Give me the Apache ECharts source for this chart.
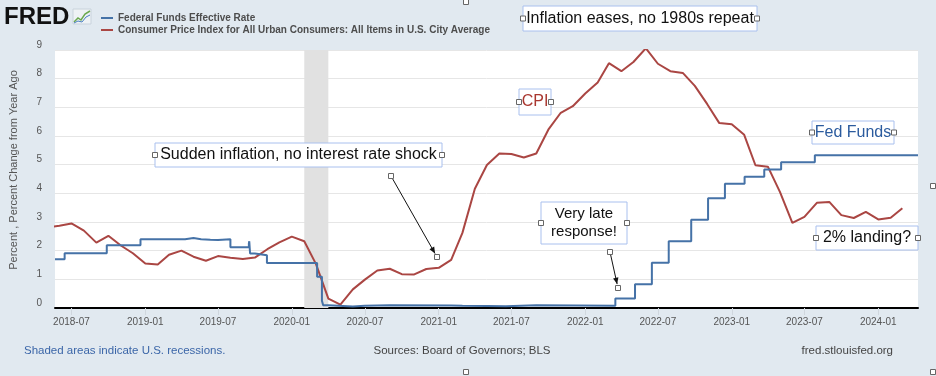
<!DOCTYPE html>
<html>
<head>
<meta charset="utf-8">
<script src="https://cdn.jsdelivr.net/npm/echarts@6/dist/echarts.min.js"></script>
<style>
  html, body { margin: 0; padding: 0; background: #ffffff; }
  #Chart1 { width: 936px; height: 376px; }
</style>
</head>
<body>
<div id="Chart1"></div>
<script>
// FRED: fed funds vs CPI inflation

// CPI, percent change from year ago (monthly, first of month)
var cpiMonths = [
  "2018-05", "2018-06", "2018-07", "2018-08", "2018-09", "2018-10", "2018-11", "2018-12",
  "2019-01", "2019-02", "2019-03", "2019-04", "2019-05", "2019-06", "2019-07", "2019-08", "2019-09", "2019-10", "2019-11", "2019-12",
  "2020-01", "2020-02", "2020-03", "2020-04", "2020-05", "2020-06", "2020-07", "2020-08", "2020-09", "2020-10", "2020-11", "2020-12",
  "2021-01", "2021-02", "2021-03", "2021-04", "2021-05", "2021-06", "2021-07", "2021-08", "2021-09", "2021-10", "2021-11", "2021-12",
  "2022-01", "2022-02", "2022-03", "2022-04", "2022-05", "2022-06", "2022-07", "2022-08", "2022-09", "2022-10", "2022-11", "2022-12",
  "2023-01", "2023-02", "2023-03", "2023-04", "2023-05", "2023-06", "2023-07", "2023-08", "2023-09", "2023-10", "2023-11", "2023-12",
  "2024-01", "2024-02", "2024-03"
];
var cpiValues = [
  2.80, 2.87, 2.95, 2.70, 2.28, 2.52, 2.18, 1.91,
  1.55, 1.52, 1.86, 2.00, 1.79, 1.65, 1.81, 1.75, 1.71, 1.76, 2.05, 2.29,
  2.49, 2.33, 1.54, 0.33, 0.12, 0.65, 0.99, 1.31, 1.37, 1.18, 1.17, 1.36,
  1.40, 1.68, 2.62, 4.16, 4.99, 5.39, 5.37, 5.25, 5.39, 6.22, 6.81, 7.04,
  7.48, 7.87, 8.54, 8.26, 8.58, 9.06, 8.52, 8.26, 8.20, 7.75, 7.11, 6.45,
  6.41, 6.04, 4.98, 4.93, 4.05, 2.97, 3.18, 3.67, 3.70, 3.24, 3.14, 3.35,
  3.09, 3.15, 3.48
];

// Federal funds effective rate, dates where the level changes
var ffDates = [
  "2018-05-21", "2018-06-14", "2018-09-27", "2018-12-20", "2019-04-10", "2019-05-01", "2019-05-20",
  "2019-06-12", "2019-07-01", "2019-08-01", "2019-09-16", "2019-09-17", "2019-09-19", "2019-10-01",
  "2019-10-31", "2020-03-04", "2020-03-16", "2020-03-19", "2020-04-01", "2020-06-01", "2020-07-01",
  "2020-09-01", "2021-02-01", "2021-03-01", "2021-05-01", "2021-06-17", "2021-09-01", "2022-03-17",
  "2022-05-05", "2022-06-16", "2022-07-28", "2022-09-22", "2022-11-03", "2022-12-15", "2023-02-02",
  "2023-03-23", "2023-05-04", "2023-07-27", "2024-04-09"
];
var ffValues = [
  1.70, 1.91, 2.19, 2.40, 2.44, 2.40, 2.38,
  2.37, 2.40, 2.12, 2.25, 2.33, 1.90, 1.84,
  1.57, 1.09, 0.25, 0.10, 0.05, 0.08, 0.10,
  0.09, 0.08, 0.07, 0.06, 0.10, 0.08, 0.33,
  0.83, 1.58, 2.33, 3.08, 3.83, 4.33, 4.58,
  4.83, 5.08, 5.33, 5.33
];

var recessions = [["2020-02-01", "2020-04-01"]];
var xTicks = ["2018-07-01", "2019-01-01", "2019-07-01", "2020-01-01", "2020-07-01", "2021-01-01",
  "2021-07-01", "2022-01-01", "2022-07-01", "2023-01-01", "2023-07-01", "2024-01-01"];
var xMin = "2018-05-21";
var xMax = "2024-04-09";

var seriesNames = [
  "Federal Funds Effective Rate",
  "Consumer Price Index for All Urban Consumers: All Items in U.S. City Average"
];

// x is counted in days since 1970 (UTC) on a plain value axis
var DAY = 86400000;
function toDay(s) {
  var p = s.split("-");
  return Date.UTC(+p[0], +p[1] - 1, p[2] ? +p[2] : 1) / DAY;
}
function pad(n) {
  return n < 10 ? "0" + n : "" + n;
}

var cpiData = cpiMonths.map(function (m, i) {
  return [toDay(m), cpiValues[i]];
});
var ffData = ffDates.map(function (d, i) {
  return [toDay(d), ffValues[i]];
});

var font = "Liberation Sans, Arial, sans-serif";
var boxBorder = "#a9c0ee";

// little square selection handles
function handle(x, y) {
  return {
    type: "rect",
    shape: { x: x - 2.5, y: y - 2.5, width: 5, height: 5 },
    style: { fill: "#ffffff", stroke: "#666666", lineWidth: 1 },
    z: 120
  };
}
// annotation text box
function noteBox(x, y, w, h, text, color, size) {
  return [
    {
      type: "rect",
      shape: { x: x, y: y, width: w, height: h },
      style: { fill: "#ffffff", stroke: boxBorder, lineWidth: 1 },
      z: 100
    },
    {
      type: "text",
      x: x + w / 2,
      y: y + h / 2,
      style: {
        text: text,
        fill: color,
        font: size + "px " + font,
        align: "center",
        verticalAlign: "middle",
        lineHeight: size + 3
      },
      z: 110
    },
    handle(x, y + h / 2),
    handle(x + w, y + h / 2)
  ];
}
function arrow(x1, y1, x2, y2) {
  var ang = Math.atan2(y2 - y1, x2 - x1);
  var hx = x2 - 4 * Math.cos(ang), hy = y2 - 4 * Math.sin(ang);
  var a = 7, s = 0.4;
  return [
    {
      type: "line",
      shape: { x1: x1, y1: y1, x2: hx, y2: hy },
      style: { stroke: "#111111", lineWidth: 1 },
      z: 100
    },
    {
      type: "polygon",
      shape: {
        points: [
          [hx, hy],
          [hx - a * Math.cos(ang - s), hy - a * Math.sin(ang - s)],
          [hx - a * Math.cos(ang + s), hy - a * Math.sin(ang + s)]
        ]
      },
      style: { fill: "#111111" },
      z: 100
    },
    handle(x1, y1),
    handle(x2, y2)
  ];
}

var graphics = [
  {
    type: "text",
    x: 4,
    y: 5,
    style: { text: "FRED", fill: "#111111", font: "bold 24px " + font },
    z: 100
  },
  {
    type: "rect",
    shape: { x: 73, y: 9, width: 18, height: 15 },
    style: { fill: "#eef2f5", stroke: "#c9d3dc", lineWidth: 1 },
    z: 100
  },
  {
    type: "polyline",
    shape: { points: [[74, 22], [78, 18], [81, 20], [85, 14], [90, 11]] },
    style: { stroke: "#6aa84f", lineWidth: 1.5, fill: null },
    z: 101
  },
  {
    type: "polyline",
    shape: { points: [[74, 23], [78, 21], [82, 22], [86, 17], [90, 15]] },
    style: { stroke: "#4a7fc1", lineWidth: 1, fill: null },
    z: 101
  },
  {
    type: "text",
    x: 24,
    y: 345,
    style: { text: "Shaded areas indicate U.S. recessions.", fill: "#3b66a8", font: "11.5px " + font },
    z: 100
  },
  {
    type: "text",
    x: 462,
    y: 345,
    style: { text: "Sources: Board of Governors; BLS", fill: "#444444", font: "11.5px " + font, align: "center" },
    z: 100
  },
  {
    type: "text",
    x: 893,
    y: 345,
    style: { text: "fred.stlouisfed.org", fill: "#444444", font: "11.5px " + font, align: "right" },
    z: 100
  },
  handle(466, 2),
  handle(933, 186),
  handle(466, 372),
  handle(933, 372)
]
  .concat(noteBox(523, 6, 234, 25, "Inflation eases, no 1980s repeat", "#111111", 16))
  .concat(noteBox(155, 143, 287, 24, "Sudden inflation, no interest rate shock", "#111111", 16))
  .concat(noteBox(519, 89, 32, 26, "CPI", "#a9372f", 16))
  .concat(noteBox(541, 202, 86, 42, "Very late\nresponse!", "#111111", 15))
  .concat(noteBox(812, 121, 82, 23, "Fed Funds", "#2b5b9e", 16))
  .concat(noteBox(816, 226, 102, 24, "2% landing?", "#111111", 16))
  .concat(arrow(391, 176, 437, 257))
  .concat(arrow(610, 252, 618, 288));

var Chart1 = echarts.init(document.getElementById("Chart1"));
option = {
  backgroundColor: "#e1e9f0",
  animation: false,
  textStyle: { fontFamily: font },
  legend: {
    orient: "vertical",
    left: 96,
    top: 8,
    itemWidth: 12,
    itemHeight: 2,
    itemGap: 2,
    icon: "rect",
    textStyle: { fontSize: 10, fontWeight: "bold", color: "#4d4d4d" },
    data: seriesNames
  },
  grid: {
    left: 50,
    right: 18,
    top: 50,
    bottom: 68,
    show: true,
    backgroundColor: "#ffffff",
    borderWidth: 0
  },
  xAxis: {
    type: "value",
    min: toDay(xMin),
    max: toDay(xMax),
    axisLine: { show: true, onZero: false, lineStyle: { color: "#000000", width: 2 } },
    axisTick: {
      show: true,
      length: 7,
      lineStyle: { color: "#d0d7de" },
      customValues: xTicks.map(toDay)
    },
    axisLabel: {
      color: "#555555",
      fontSize: 10,
      margin: 9,
      customValues: xTicks.map(toDay),
      formatter: function (v) {
        var d = new Date(Math.round(v) * DAY);
        return d.getUTCFullYear() + "-" + pad(d.getUTCMonth() + 1);
      }
    },
    splitLine: { show: false }
  },
  yAxis: {
    type: "value",
    min: 0,
    max: 9,
    interval: 1,
    name: "Percent , Percent Change from Year Ago",
    nameLocation: "middle",
    nameGap: 36,
    nameTextStyle: { color: "#555555", fontSize: 11, padding: [0, 0, 0, 18] },
    axisLine: { show: false },
    axisTick: { show: false },
    axisLabel: {
      color: "#555555",
      fontSize: 10,
      margin: 13,
      verticalAlign: "bottom"
    },
    splitLine: { lineStyle: { color: "#e6e6e6" } }
  },
  series: [
    {
      name: seriesNames[0],
      type: "line",
      step: "end",
      data: ffData,
      showSymbol: false,
      color: "#4572a7",
      lineStyle: { width: 2 },
      z: 3,
      markArea: {
        silent: true,
        itemStyle: { color: "#e1e1e1" },
        data: recessions.map(function (r) {
          return [{ xAxis: toDay(r[0]) }, { xAxis: toDay(r[1]) }];
        })
      }
    },
    {
      name: seriesNames[1],
      type: "line",
      data: cpiData,
      showSymbol: false,
      color: "#aa4643",
      lineStyle: { width: 2 },
      z: 2
    }
  ],
  graphic: graphics
};

Chart1.setOption(option);
</script>
</body>
</html>
